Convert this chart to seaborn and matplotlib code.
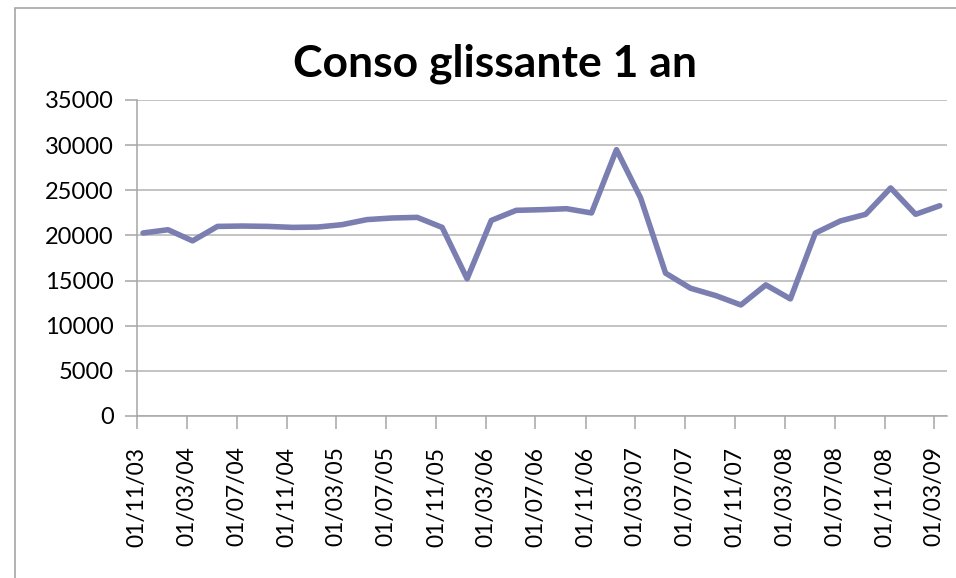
import pandas as pd
import matplotlib
matplotlib.use("Agg")
import matplotlib.pyplot as plt
import matplotlib.dates as mdates
from matplotlib.patches import Rectangle
import seaborn as sns


# rolling 1-year consumption, one reading every two months (mid-month)
dates = pd.date_range("2003-11-01", periods=33, freq="2MS") + pd.Timedelta(days=14)
conso = [20270, 20630, 19400, 21000, 21040, 21000, 20890, 20930, 21190, 21750,
         21930, 22000, 20890, 15200, 21660, 22780, 22850, 22960, 22490, 29500,
         24150, 15820, 14150, 13330, 12300, 14520, 12970, 20260, 21600, 22340,
         25260, 22340, 23290]
yticks = [0, 5000, 10000, 15000, 20000, 25000, 30000, 35000]
title = "Conso glissante 1 an"

df = pd.DataFrame({"date": dates, "conso": conso})

sns.set_theme(style="white")
plt.rcParams["font.family"] = ["Lato", "DejaVu Sans"]

fig = plt.figure(figsize=(9.56, 5.78), dpi=100)
ax = fig.add_axes([137.3 / 956, 1 - 416 / 578, (946.7 - 137.3) / 956, (416 - 100) / 578])

sns.lineplot(data=df, x="date", y="conso", ax=ax, color="#7A7EB0", linewidth=4.0,
             solid_capstyle="round", solid_joinstyle="round")

ax.set_xlim(pd.Timestamp("2003-11-01"), pd.Timestamp("2009-04-01"))
ax.set_ylim(0, 35000)
ax.set_yticks(yticks)
ax.xaxis.set_major_locator(mdates.MonthLocator(bymonth=[3, 7, 11], bymonthday=1))
ax.xaxis.set_major_formatter(mdates.DateFormatter("%d/%m/%y"))

ax.grid(axis="y", color="#b3b3b3", linewidth=1.1)
ax.set_axisbelow(True)
for side in ["top", "right"]:
    ax.spines[side].set_visible(False)
for side in ["left", "bottom"]:
    ax.spines[side].set_color("#a6a6a6")
    ax.spines[side].set_linewidth(1.1)

ax.tick_params(axis="both", which="major", length=9, width=1.1, color="#a6a6a6",
               labelsize=17, labelcolor="black")
ax.tick_params(axis="y", left=True, pad=8)
ax.tick_params(axis="x", bottom=True, pad=13, labelrotation=90, labelsize=16.5)
ax.set_xlabel("")
ax.set_ylabel("")

fig.text(495 / 956, 1 - 77 / 578, title, ha="center", va="baseline",
         fontsize=32, fontweight="bold", color="black")

# chart-area border (cut off at right and bottom edge like the screenshot)
fig.patches.append(Rectangle((15 / 956, -0.05), 1.2, 1.05 - 8 / 578,
                             transform=fig.transFigure, fill=False,
                             edgecolor="#a6a6a6", linewidth=1.2))

fig.savefig("out.png", dpi=100)
